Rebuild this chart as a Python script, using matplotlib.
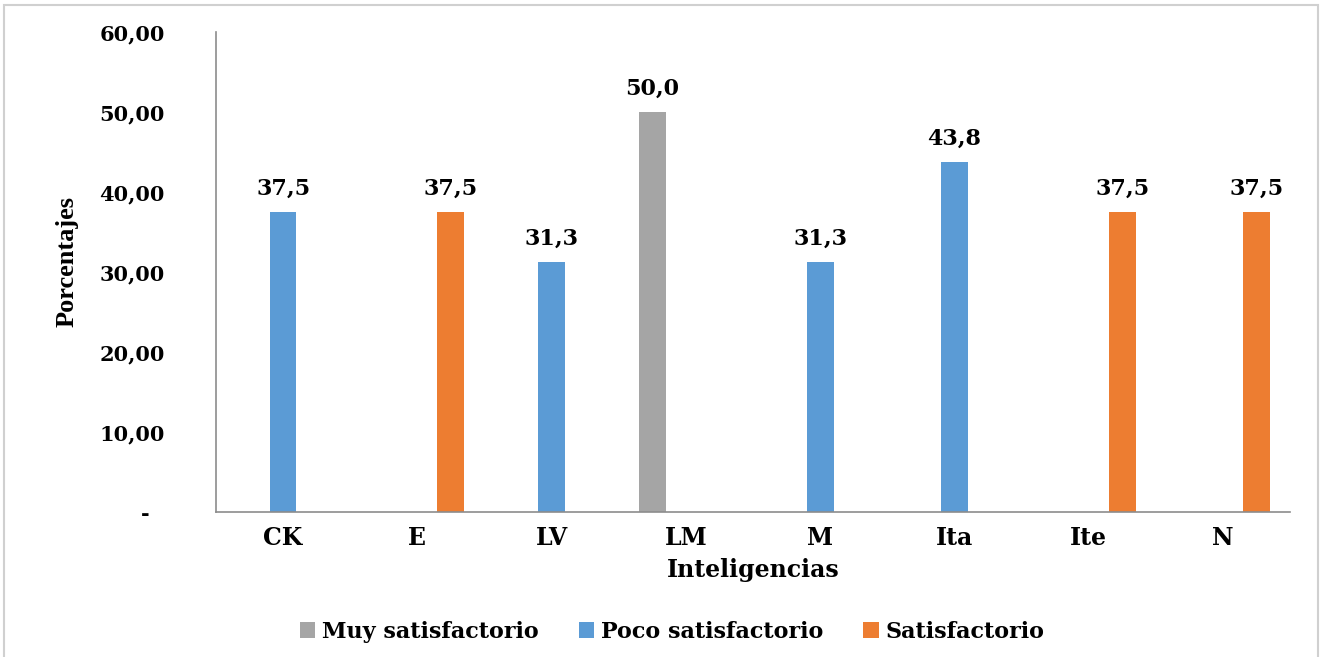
import matplotlib
matplotlib.use("Agg")
import matplotlib.pyplot as plt
import numpy as np
from matplotlib.patches import Rectangle
from matplotlib.ticker import FuncFormatter

# datos
categorias = ["CK", "E", "LV", "LM", "M", "Ita", "Ite", "N"]
muy_satisfactorio = [0, 0, 0, 50.0, 0, 0, 0, 0]
poco_satisfactorio = [37.5, 0, 31.3, 0, 31.3, 43.8, 0, 0]
satisfactorio = [0, 37.5, 0, 0, 0, 0, 37.5, 37.5]
yticks = [0, 10, 20, 30, 40, 50, 60]

series = [
    ("Muy satisfactorio", muy_satisfactorio, "#A5A5A5", -0.25),
    ("Poco satisfactorio", poco_satisfactorio, "#5B9BD5", 0.0),
    ("Satisfactorio", satisfactorio, "#ED7D31", 0.25),
]

num_font = "DejaVu Serif"

fig = plt.figure(figsize=(13.24, 6.57), dpi=100)
ax = fig.add_axes([0.1631, 0.2207, 0.8112, 0.7306])

# marco gris alrededor de la figura
fig.patches.append(Rectangle((0.003, -0.05), 0.9925, 1.042, transform=fig.transFigure,
                             fill=False, edgecolor="#d0d0d0", linewidth=1.5))

x = np.arange(len(categorias))
width = 0.2

for name, vals, color, off in series:
    ax.bar(x + off, vals, width, color=color, label=name, zorder=2)
    for xi, v in zip(x, vals):
        if v > 0:
            ax.text(xi + off, v + 1.5, f"{v:.1f}".replace(".", ","), ha="center", va="bottom",
                    fontsize=16, fontweight="bold", family=num_font)

ax.set_xlim(-0.5, len(categorias) - 0.5)
ax.set_ylim(0, 60)
ax.set_yticks(yticks)


def fmt(v, pos):
    if v == 0:
        return "-  "
    return f"{v:.2f}".replace(".", ",")


ax.yaxis.set_major_formatter(FuncFormatter(fmt))
ax.set_xticks(x)
ax.set_xticklabels(categorias)

for lab in ax.get_yticklabels() + ax.get_xticklabels():
    lab.set_family(num_font)
    lab.set_fontweight("bold")
ax.tick_params(axis="y", length=0, pad=37, labelsize=15)
ax.tick_params(axis="x", length=0, pad=10, labelsize=17)

for s in ["top", "right"]:
    ax.spines[s].set_visible(False)
ax.spines["left"].set_color("#8c8c8c")
ax.spines["bottom"].set_color("#8c8c8c")
ax.spines["left"].set_linewidth(1.2)
ax.spines["bottom"].set_linewidth(1.2)

ax.set_ylabel("Porcentajes", family="Liberation Serif", fontweight="bold", fontsize=19)
ax.yaxis.set_label_coords(-0.128, 0.521)
ax.set_xlabel("Inteligencias", family=num_font, fontweight="bold", fontsize=17, labelpad=6)

ax.legend(loc="center", bbox_to_anchor=(0.4246, -0.25), ncol=3, frameon=False,
          prop={"family": num_font, "weight": "bold", "size": 16},
          handlelength=0.7, handleheight=0.7, handletextpad=0.3, columnspacing=1.8)

fig.savefig("out.png", dpi=100)
